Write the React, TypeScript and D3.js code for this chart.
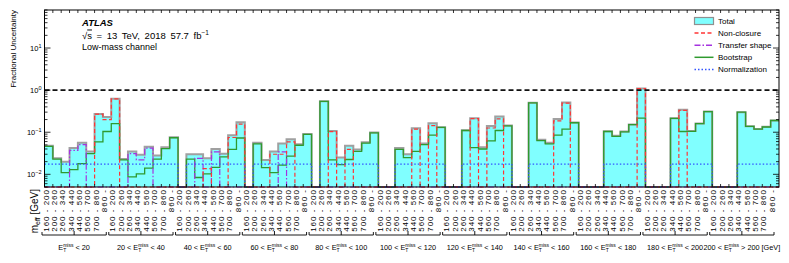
import React from "react";
import * as d3 from "d3";

// m_eff bins inside each E_T^miss slice
const massBins = ["160 - 200", "200 - 260", "260 - 340", "340 - 440", "440 - 560", "560 - 700", "700 - 860", "860 -"];
// E_T^miss slice edges [GeV]
const metEdges = [20, 40, 60, 80, 100, 120, 140, 160, 180, 200];

// one row per E_T^miss slice, 8 m_eff bins each (0 = empty bin)
const total = [
  0.048, 0.024, 0.020, 0.042, 0.056, 0.035, 0.27, 0.23,
  0.62, 0.023, 0.035, 0.029, 0.045, 0.028, 0.044, 0.076,
  0, 0.030, 0.030, 0.024, 0.040, 0.031, 0.085, 0.173,
  0, 0.056, 0.022, 0.035, 0.054, 0.068, 0.052, 0.091,
  0, 0.547, 0.107, 0.025, 0.048, 0.039, 0.058, 0.098,
  0, 0, 0.042, 0.030, 0.124, 0.054, 0.164, 0.132,
  0, 0, 0.112, 0.216, 0.044, 0.141, 0.236, 0.144,
  0, 0, 0.50, 0.066, 0.056, 0.207, 0.51, 0.170,
  0, 0, 0, 0.106, 0.082, 0.104, 0.153, 1.10,
  0, 0, 0, 0.216, 0.34, 0.107, 0.161, 0.31,
  0, 0, 0, 0.30, 0.139, 0.12, 0.134, 0.19,
];

const nonClosure = [
  0, 0, 0, 0, 0, 0, 0.27, 0.20,
  0.62, 0, 0, 0, 0, 0, 0, 0,
  0, 0, 0, 0.0137, 0, 0, 0.075, 0.155,
  0, 0, 0, 0.030, 0.030, 0.059, 0, 0,
  0, 0, 0.103, 0, 0.039, 0, 0, 0,
  0, 0, 0, 0, 0.118, 0, 0.144, 0,
  0, 0, 0, 0.21, 0, 0.126, 0.207, 0,
  0, 0, 0, 0, 0, 0.186, 0.49, 0,
  0, 0, 0, 0, 0, 0, 0, 1.08,
  0, 0, 0, 0, 0.33, 0, 0, 0,
  0, 0, 0, 0, 0, 0, 0, 0,
];

const transferShape = [
  0, 0, 0, 0.037, 0.051, 0, 0, 0,
  0, 0, 0.031, 0.022, 0.042, 0, 0, 0,
  0, 0, 0.024, 0, 0.034, 0, 0, 0,
  0, 0, 0, 0, 0.034, 0, 0, 0,
  0, 0, 0, 0, 0, 0, 0, 0,
  0, 0, 0, 0, 0, 0, 0, 0,
  0, 0, 0, 0, 0, 0, 0, 0,
  0, 0, 0, 0, 0, 0, 0, 0,
  0, 0, 0, 0, 0, 0, 0, 0,
  0, 0, 0, 0, 0, 0, 0, 0,
  0, 0, 0, 0, 0, 0, 0, 0,
];

const bootstrap = [
  0.046, 0.023, 0.011, 0.013, 0.018, 0.031, 0.059, 0.104,
  0.16, 0.022, 0.0087, 0.0102, 0.014, 0.023, 0.041, 0.074,
  0, 0.023, 0.0084, 0.0102, 0.0146, 0.026, 0.039, 0.073,
  0, 0.053, 0.0145, 0.011, 0.0166, 0.027, 0.049, 0.089,
  0, 0.54, 0.022, 0.017, 0.0225, 0.035, 0.055, 0.096,
  0, 0, 0.039, 0.025, 0.035, 0.051, 0.085, 0.13,
  0, 0, 0.11, 0.043, 0.040, 0.062, 0.110, 0.142,
  0, 0, 0.50, 0.063, 0.053, 0.085, 0.118, 0.168,
  0, 0, 0, 0.104, 0.080, 0.102, 0.151, 0.216,
  0, 0, 0, 0.214, 0.104, 0.105, 0.16, 0.31,
  0, 0, 0, 0.30, 0.138, 0.118, 0.133, 0.19,
];

const normalization = [
  0.0175, 0.0175, 0.0175, 0.0175, 0.0175, 0.0175, 0.0175, 0.0175,
  0.0175, 0.0175, 0.0175, 0.0175, 0.0175, 0.0175, 0.0175, 0.0175,
  0, 0.0175, 0.0175, 0.0175, 0.0175, 0.0175, 0.0175, 0.0175,
  0, 0.0175, 0.0175, 0.0175, 0.0175, 0.0175, 0.0175, 0.0175,
  0, 0.0175, 0.0175, 0.0175, 0.0175, 0.0175, 0.0175, 0.0175,
  0, 0, 0.0175, 0.0175, 0.0175, 0.0175, 0.0175, 0.0175,
  0, 0, 0.0175, 0.0175, 0.0175, 0.0175, 0.0175, 0.0175,
  0, 0, 0.0175, 0.0175, 0.0175, 0.0175, 0.0175, 0.0175,
  0, 0, 0, 0.0175, 0.0175, 0.0175, 0.0175, 0.0175,
  0, 0, 0, 0.0175, 0.0175, 0.0175, 0.0175, 0.0175,
  0, 0, 0, 0.0175, 0.0175, 0.0175, 0.0175, 0.0175,
];

const W = 789, H = 263;
const L = 44.5, R = 779, T = 10, B = 187;
const FONT = "Liberation Sans, Arial, Helvetica, sans-serif";

const CYAN = "#80ffff";
const RED = "#ff3535";
const PURPLE = "#a533e0";
const GREEN = "#2f9a2f";
const BLUE = "#3355ff";

export default function App() {
  const nGroups = metEdges.length + 1;
  const nBins = nGroups * massBins.length;
  const x = d3.scaleLinear().domain([0, nBins]).range([L, R]);
  const y = d3.scaleLog().domain([0.005, 80]).range([B, T]);
  const yv = (v: number) => (v > 0 ? y(v) : B);

  const stepPts = (vals: number[]): [number, number][] => [
    ...vals.map((v, i) => [x(i), yv(v)] as [number, number]),
    [x(vals.length), yv(vals[vals.length - 1])],
  ];
  const line = d3.line().curve(d3.curveStepAfter);
  const area = d3
    .area<[number, number]>()
    .x((d) => d[0])
    .y0(B)
    .y1((d) => d[1])
    .curve(d3.curveStepAfter);

  const yTicks = y.ticks();
  const decades = [0.01, 0.1, 1, 10];
  const bins = d3.range(nBins);
  const edges = d3.range(1, nBins);
  const groups = d3.range(nGroups);

  const legend = [
    { label: "Total", kind: "box" },
    { label: "Non-closure", color: RED, dash: "4,2.5" },
    { label: "Transfer shape", color: PURPLE, dash: "6,2,1.5,2" },
    { label: "Bootstrap", color: GREEN, dash: "" },
    { label: "Normalization", color: BLUE, dash: "1.5,2" },
  ];

  return (
    <svg
      width={W}
      height={H}
      style={{ position: "absolute", left: 0, top: 0, background: "#fff" }}
      fontFamily={FONT}
    >
      {/* histograms */}
      <path d={area(stepPts(total)) || ""} fill={CYAN} stroke="none" />
      <path d={line(stepPts(total)) || ""} fill="none" stroke="#a0a0a0" strokeWidth={2} />
      <path d={line(stepPts(bootstrap)) || ""} fill="none" stroke={GREEN} strokeWidth={1.3} />
      <path d={line(stepPts(transferShape)) || ""} fill="none" stroke={PURPLE} strokeWidth={1.2} strokeDasharray="6,2,1.5,2" />
      <path d={line(stepPts(nonClosure)) || ""} fill="none" stroke={RED} strokeWidth={1.2} strokeDasharray="4,2.5" />
      <path d={line(stepPts(normalization)) || ""} fill="none" stroke={BLUE} strokeWidth={1.2} strokeDasharray="1.5,2" />

      {/* unity line */}
      <line x1={L} x2={R} y1={y(1)} y2={y(1)} stroke="#111" strokeWidth={1.6} strokeDasharray="5,3" />

      {/* frame */}
      <rect x={L} y={T} width={R - L} height={B - T} fill="none" stroke="#000" strokeWidth={1} />

      {/* y ticks both sides */}
      {yTicks.map((t, i) => {
        const major = Math.abs(Math.log10(t) - Math.round(Math.log10(t))) < 1e-6;
        const len = major ? 6 : 3;
        return (
          <g key={"yt" + i} stroke="#000" strokeWidth={0.8}>
            <line x1={L} x2={L + len} y1={y(t)} y2={y(t)} />
            <line x1={R} x2={R - len} y1={y(t)} y2={y(t)} />
          </g>
        );
      })}
      {decades.map((d) => {
        const e = Math.round(Math.log10(d));
        return (
          <text key={"yl" + d} x={41.5} y={y(d) + 3} fontSize={7.5} textAnchor="end">
            10
            <tspan fontSize={5.5} dy={-3.5}>
              {e < 0 ? "\u2212" + Math.abs(e) : String(e)}
            </tspan>
          </text>
        );
      })}
      <text
        x={15.5}
        y={T}
        fontSize={8}
        textAnchor="end"
        transform={`rotate(-90, 15.5, ${T})`}
      >
        Fractional Uncertainty
      </text>

      {/* x ticks top and bottom at bin edges */}
      {edges.map((i) => (
        <g key={"xt" + i} stroke="#000" strokeWidth={0.8}>
          <line x1={x(i)} x2={x(i)} y1={T} y2={T + 3} />
          <line x1={x(i)} x2={x(i)} y1={B} y2={B - 3} />
        </g>
      ))}

      {/* mass bin labels */}
      {bins.map((i) => {
        const cx = x(i + 0.5);
        return (
          <text
            key={"ml" + i}
            x={cx}
            y={189}
            fontSize={8}
            letterSpacing={1}
            textAnchor="end"
            transform={`rotate(-90, ${cx}, 189)`}
          >
            {massBins[i % massBins.length]}
          </text>
        );
      })}
      <text x={37.5} y={189} fontSize={10} textAnchor="end" transform="rotate(-90, 37.5, 189)">
        m
        <tspan fontSize={7} dy={2}>eff</tspan>
        <tspan dy={-2}> [GeV]</tspan>
      </text>

      {/* E_T^miss slice brackets and labels */}
      {groups.map((g) => {
        const x0 = x(g * 8) - 2.5;
        const x1 = x(g * 8 + 8) - 5;
        const xm = (x0 + x1) / 2;
        const lo = g === 0 ? "" : `${metEdges[g - 1]} < `;
        const hi = g < metEdges.length ? ` < ${metEdges[g]}` : ` > ${metEdges[metEdges.length - 1]} [GeV]`;
        return (
          <g key={"grp" + g}>
            <g stroke="#000" strokeWidth={0.9} fill="none">
              <line x1={x0} x2={x1} y1={235} y2={235} />
              <line x1={x0} x2={x0} y1={232} y2={235} />
              <line x1={x1} x2={x1} y1={232} y2={235} />
              <line x1={xm} x2={xm} y1={231} y2={235} />
            </g>
            <text x={xm} y={250} fontSize={7.3} textAnchor="middle" style={{ whiteSpace: "pre" }}>
              {lo}E
              <tspan fontSize={5} dy={2}>T</tspan>
              <tspan fontSize={5} dx={-3.1} dy={-5}>miss</tspan>
              <tspan dy={3}>{hi}</tspan>
            </text>
          </g>
        );
      })}

      {/* ATLAS label */}
      <text x={82} y={26} fontSize={9.5} fontWeight="bold" fontStyle="italic">ATLAS</text>
      <text x={82} y={38.5} fontSize={9.5} wordSpacing={2} style={{ whiteSpace: "pre" }}>
        {"\u221A"}
        <tspan textDecoration="overline">s</tspan>
        <tspan>{" = 13 TeV, 2018 57.7 fb"}</tspan>
        <tspan fontSize={6.5} dy={-3.5}>{"\u22121"}</tspan>
      </text>
      <text x={82} y={50} fontSize={9}>Low-mass channel</text>

      {/* legend */}
      {legend.map((d, i) => {
        const cy = 21 + i * 12.1;
        return (
          <g key={"lg" + i}>
            {d.kind === "box" ? (
              <rect x={694.5} y={cy - 3.5} width={19} height={7} fill={CYAN} stroke="#909090" strokeWidth={1.2} />
            ) : (
              <line x1={694.5} x2={713.5} y1={cy} y2={cy} stroke={d.color} strokeWidth={1.5} strokeDasharray={d.dash || undefined} />
            )}
            <text x={718} y={cy + 3} fontSize={8}>{d.label}</text>
          </g>
        );
      })}
    </svg>
  );
}
